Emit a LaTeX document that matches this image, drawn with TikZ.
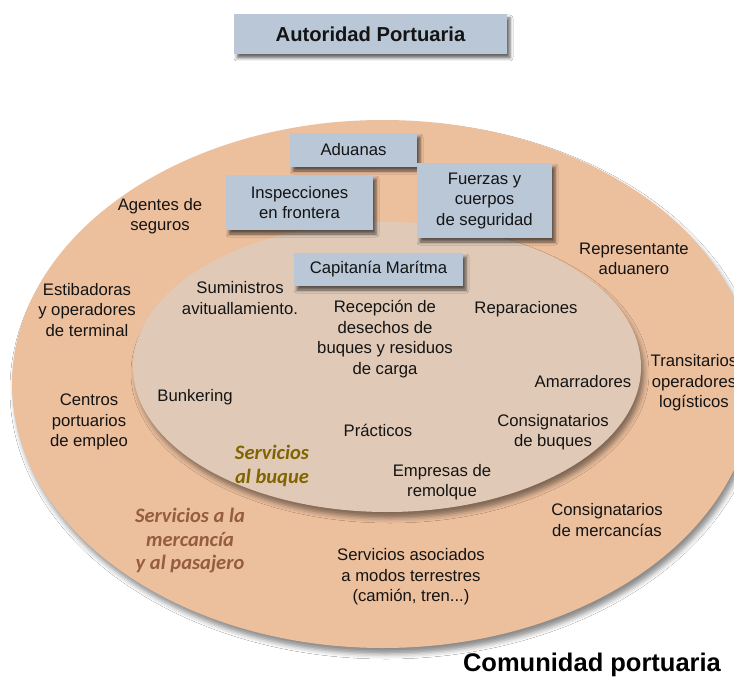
\documentclass[tikz,border=0pt]{standalone}
\usepackage{fontspec}
\setmainfont{Liberation Sans}
\newfontfamily\carl{Carlito}
\usetikzlibrary{shadows.blur}
\definecolor{outerc}{RGB}{236,191,157}
\definecolor{innerc}{RGB}{224,202,183}
\definecolor{boxc}{RGB}{185,199,215}
\definecolor{txt}{RGB}{20,20,20}
\definecolor{brownit}{RGB}{150,92,62}
\definecolor{oliveit}{RGB}{128,100,0}
\begin{document}
\begin{tikzpicture}[x=1pt,y=-1pt,
 lbl/.style={align=center,font=\fontsize{16.7}{20.5}\selectfont,text=txt,inner sep=0pt},
 box/.style={fill=boxc,draw=none,inner sep=0pt,align=center,font=\fontsize{16.7}{20.5}\selectfont,text=txt,
   blur shadow={shadow xshift=3pt,shadow yshift=-4pt,shadow blur radius=3pt,shadow opacity=60}},
 ital/.style={align=center,font=\carl\bfseries\itshape\fontsize{20.5}{23.5}\selectfont,inner sep=0pt},
 zone/.style={blur shadow={shadow xshift=3pt,shadow yshift=-6pt,shadow blur radius=5pt,shadow opacity=45}}]
\fill[white] (0,0) rectangle (734,679);
\useasboundingbox (0,0) rectangle (734,679);
% zones
\path[zone,fill=outerc] (383,384) ellipse [x radius=371,y radius=264];
\path[zone,fill=innerc] (387,367) ellipse [x radius=254,y radius=145];
% boxes
\node[box,minimum width=273pt,minimum height=40pt,font=\bfseries\fontsize{20.2}{24}\selectfont] (aut) at (370.5,34) {Autoridad Portuaria};
\node[box,minimum width=127pt,minimum height=34pt] (adu) at (353.5,150) {Aduanas};
\node[box,minimum width=147pt,minimum height=55pt] (insp) at (299.5,202.5) {Inspecciones\\en frontera};
\node[box,minimum width=135pt,minimum height=75pt] (fuer) at (484.5,200.5) {Fuerzas y\\cuerpos\\de seguridad};
\node[box,minimum width=169pt,minimum height=33pt] (cap) at (378.5,269.5) {Capitanía Marítma};
% outer labels
\node[lbl] (seg) at (160,216) {Agentes de\\seguros};
\node[lbl] (est) at (87,310) {Estibadoras\\y operadores\\de terminal};
\node[lbl] (cen) at (89,422) {Centros\\portuarios\\de empleo};
\node[lbl] (rep) at (634,259) {Representante\\aduanero};
\node[lbl] (tra) at (694,383) {Transitarios\\operadores\\logísticos};
\node[lbl] (cme) at (607,520) {Consignatarios\\de mercancías};
\node[lbl] (ter) at (411,577) {Servicios asociados\\a modos terrestres\\(camión, tren...)};
\node[ital,text=brownit] (smp) at (190,541) {Servicios a la\\mercancía\\y al pasajero};
% inner labels
\node[lbl] (sum) at (240,298) {Suministros\\avituallamiento.};
\node[lbl] (rec) at (385,339) {Recepción de\\desechos de\\buques y residuos\\de carga};
\node[lbl] (rpr) at (526,309) {Reparaciones};
\node[lbl] (ama) at (583,382) {Amarradores};
\node[lbl] (bun) at (195,397) {Bunkering};
\node[lbl] (pra) at (378,430) {Prácticos};
\node[lbl] (cbu) at (553,432) {Consignatarios\\de buques};
\node[lbl] (rem) at (442,482) {Empresas de\\remolque};
\node[ital,text=oliveit] (sbu) at (272,466) {Servicios\\al buque};
% title
\node[lbl,font=\bfseries\fontsize{25.5}{30}\selectfont,text=black] (com) at (592,665) {Comunidad portuaria};
\end{tikzpicture}
\end{document}
